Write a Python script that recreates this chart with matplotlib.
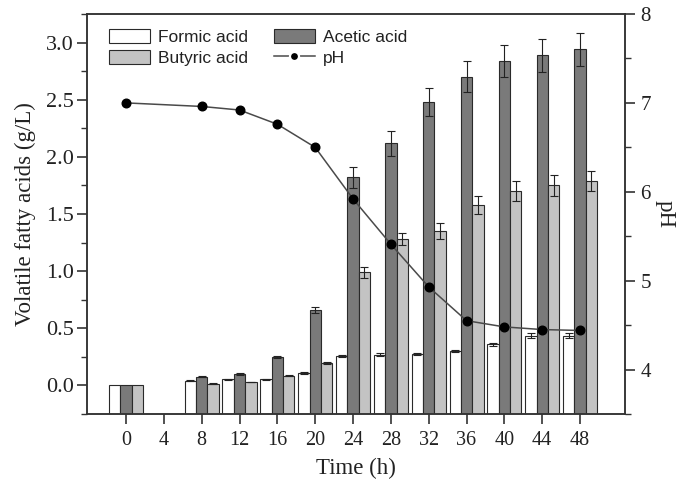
import matplotlib
matplotlib.use("Agg")
import numpy as np
import matplotlib.pyplot as plt
from matplotlib.patches import Patch
from matplotlib.lines import Line2D
from matplotlib.ticker import MultipleLocator

# Sampling times (h) and axis ticks
time_ticks = [0, 4, 8, 12, 16, 20, 24, 28, 32, 36, 40, 44, 48]
times = [0, 8, 12, 16, 20, 24, 28, 32, 36, 40, 44, 48]

# Volatile fatty acid concentrations (g/L) with standard deviations
formic = [0.0, 0.04, 0.055, 0.055, 0.11, 0.26, 0.27, 0.275, 0.30, 0.36, 0.435, 0.435]
formic_err = [0.0, 0.004, 0.005, 0.005, 0.006, 0.01, 0.01, 0.01, 0.01, 0.015, 0.02, 0.02]
acetic = [0.0, 0.075, 0.10, 0.25, 0.66, 1.82, 2.12, 2.48, 2.70, 2.84, 2.89, 2.94]
acetic_err = [0.0, 0.005, 0.008, 0.01, 0.03, 0.09, 0.11, 0.125, 0.135, 0.14, 0.145, 0.145]
butyric = [0.0, 0.015, 0.03, 0.085, 0.195, 0.99, 1.28, 1.35, 1.58, 1.70, 1.75, 1.79]
butyric_err = [0.0, 0.003, 0.004, 0.005, 0.01, 0.05, 0.055, 0.07, 0.08, 0.09, 0.09, 0.09]

# pH of the broth
ph = [7.00, 6.96, 6.92, 6.76, 6.50, 5.92, 5.41, 4.93, 4.55, 4.48, 4.45, 4.44]

SERIF = ["Liberation Serif", "DejaVu Serif"]
SANS = ["Liberation Sans", "DejaVu Sans"]
plt.rcParams["font.family"] = SERIF

fig = plt.figure(figsize=(6.9, 4.88), dpi=100)
ax = fig.add_axes([0.1268, 0.1516, 0.779, 0.8197])
ax2 = ax.twinx()

ylo, yhi = -0.25, 3.25
bar_w = 1.2
edge = "#2a2a2a"
t = np.array(times, dtype=float)

series = [
    (formic, formic_err, -bar_w, "white", "Formic acid"),
    (acetic, acetic_err, 0.0, "#7a7a7a", "Acetic acid"),
    (butyric, butyric_err, bar_w, "#c3c3c3", "Butyric acid"),
]
handles = {}
for vals, errs, off, col, name in series:
    v = np.array(vals)
    e = np.array(errs)
    ax.bar(t + off, v - ylo, bottom=ylo, width=bar_w, color=col,
           edgecolor=edge, linewidth=0.8, zorder=2)
    m = e > 0
    ax.errorbar(t[m] + off, v[m], yerr=e[m], fmt="none", ecolor="#222222",
                elinewidth=0.8, capsize=3, capthick=0.8, zorder=3)
    handles[name] = Patch(facecolor=col, edgecolor=edge, linewidth=0.8)

ax2.plot(t, ph, color="#4a4a4a", linewidth=1.1, marker="o", markersize=6.2,
         markerfacecolor="black", markeredgecolor="black", zorder=4)

ax.set_xlim(-4.07, 52.75)
ax.set_ylim(ylo, yhi)
ax2.set_ylim(3.5, 8)

ax.set_xticks(time_ticks)
ax.set_xticklabels([str(v) for v in time_ticks])
ax.yaxis.set_major_locator(MultipleLocator(0.5))
ax.yaxis.set_minor_locator(MultipleLocator(0.25))
ax.yaxis.set_major_formatter(plt.FormatStrFormatter("%.1f"))
ax2.yaxis.set_major_locator(MultipleLocator(1))
ax2.yaxis.set_minor_locator(MultipleLocator(0.5))

for a in (ax, ax2):
    for s in a.spines.values():
        s.set_linewidth(1.1)
        s.set_color("#333333")

ax.tick_params(axis="x", direction="out", length=7, width=1.1, pad=5,
               labelsize=14.5, colors="#222222", top=False)
ax.tick_params(axis="y", which="major", direction="out", length=7, width=1.1,
               pad=3, labelsize=16, colors="#222222", right=False)
ax.tick_params(axis="y", which="minor", direction="out", length=4, width=1.0,
               right=False, colors="#333333")
ax2.tick_params(axis="y", which="major", direction="out", length=7, width=1.1,
                pad=4, labelsize=15, colors="#222222")
ax2.tick_params(axis="y", which="minor", direction="out", length=4, width=1.0,
                colors="#333333")

ax.set_xlabel("Time (h)", fontsize=16.5, color="#222222", labelpad=6)
ax.set_ylabel("Volatile fatty acids (g/L)", fontsize=16.5, color="#222222",
              labelpad=7)
ax2.set_ylabel("pH", fontsize=16.5, color="#222222", rotation=270,
               labelpad=18)

ph_handle = Line2D([], [], color="#4a4a4a", linewidth=1.1, marker="o",
                   markersize=6.5, markerfacecolor="black",
                   markeredgecolor="white", markeredgewidth=1.6)
leg = ax2.legend(
    [handles["Formic acid"], handles["Butyric acid"], handles["Acetic acid"], ph_handle],
    ["Formic acid", "Butyric acid", "Acetic acid", "pH"],
    ncol=2, loc="upper left", bbox_to_anchor=(0.0245, 0.985), frameon=False,
    borderpad=0, handlelength=2.35, handleheight=0.85, handletextpad=0.45,
    columnspacing=1.5, labelspacing=0.3,
    prop={"family": SANS, "size": 12.5},
)
for txt in leg.get_texts():
    txt.set_color("#222222")

fig.savefig("out.png", dpi=100)
